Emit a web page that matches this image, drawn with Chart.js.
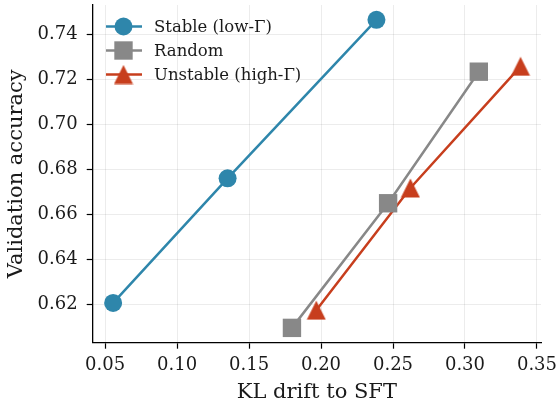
<!DOCTYPE html>
<html>
<head>
<meta charset="utf-8">
<script src="https://cdn.jsdelivr.net/npm/chart.js@4/dist/chart.umd.min.js"></script>
<style>
  html, body { margin: 0; padding: 0; background: #fff; }
  #wrap { width: 558px; height: 403px; position: relative; }
</style>
</head>
<body>
<div id="wrap"><canvas id="cadre"></canvas></div>
<script>
// values
const stableKL = [0.0556, 0.1351, 0.2385];
const stableAcc = [0.6205, 0.676, 0.7466];
const randomKL = [0.1798, 0.2466, 0.3096];
const randomAcc = [0.6094, 0.6649, 0.7235];
const unstableKL = [0.1967, 0.2621, 0.3386];
const unstableAcc = [0.6173, 0.6717, 0.7259];

const xTicks = [0.05, 0.10, 0.15, 0.20, 0.25, 0.30, 0.35];
const yTicks = [0.62, 0.64, 0.66, 0.68, 0.70, 0.72, 0.74];
const seriesNames = ["Stable (low-\u0393)", "Random", "Unstable (high-\u0393)"];

const FONT = "'DejaVu Serif', serif";
const TEXT = "#1a1a1a";
const PLOT_TOP = 5;

function pts(xs, ys) {
  return xs.map((x, i) => ({ x: x, y: ys[i] }));
}

// matplotlib '^' is centred on its bounding box, not its centroid
function triangleMarker(color) {
  let c = document.createElement("canvas");
  c.width = 20;
  c.height = 20;
  let g = c.getContext("2d");
  g.fillStyle = color;
  g.beginPath();
  g.moveTo(10, 0.6);
  g.lineTo(19.5, 19.4);
  g.lineTo(0.5, 19.4);
  g.closePath();
  g.fill();
  return c;
}

function makeSet(label, data, color, style, radius) {
  return {
    label: label,
    data: data,
    showLine: true,
    borderColor: color,
    backgroundColor: color,
    borderWidth: 2.5,
    pointStyle: style,
    pointRadius: radius,
    pointHoverRadius: radius,
    pointBorderWidth: 0,
    pointBorderColor: color,
    pointBackgroundColor: color,
    clip: false,
  };
}

// pull the plot top up to where matplotlib had it
const topFix = {
  id: "topFix",
  afterLayout(chart) {
    const y = chart.scales.y;
    const area = chart.chartArea;
    area.top = PLOT_TOP;
    area.height = area.bottom - PLOT_TOP;
    y.top = PLOT_TOP;
    y.height = y.bottom - PLOT_TOP;
    y.configure();
  },
};

// legend drawn like matplotlib's: short line with the marker on it
const mplLegend = {
  id: "mplLegend",
  afterDraw(chart) {
    const ctx = chart.ctx;
    const rows = [26.5, 50.5, 74.5];
    chart.data.datasets.forEach((ds, i) => {
      const y = rows[i];
      ctx.save();
      ctx.strokeStyle = ds.borderColor;
      ctx.lineWidth = 2.5;
      ctx.beginPath();
      ctx.moveTo(106, y);
      ctx.lineTo(142, y);
      ctx.stroke();
      ctx.fillStyle = ds.backgroundColor;
      Chart.helpers.drawPoint(ctx, {
        pointStyle: ds.pointStyle,
        rotation: 0,
        borderWidth: 0,
        radius: ds.pointRadius,
      }, 123.5, y);
      ctx.restore();

      ctx.save();
      ctx.fillStyle = TEXT;
      ctx.font = "16.5px " + FONT;
      ctx.textBaseline = "middle";
      ctx.fillText(ds.label, 154, y + 0.8);
      ctx.restore();
    });
  },
};

const gridOpts = {
  color: "rgba(0,0,0,0.075)",
  lineWidth: 1,
  tickColor: "#000",
  tickLength: 6,
  tickWidth: 1.2,
};

let canvas = document.getElementById("cadre");
const ctx = canvas.getContext("2d");

const chart = new Chart(ctx, {
  type: "scatter",
  data: {
    datasets: [
      makeSet(seriesNames[0], pts(stableKL, stableAcc), "#2e86ab", "circle", 9),
      makeSet(seriesNames[1], pts(randomKL, randomAcc), "#888888", "rect", 13),
      makeSet(seriesNames[2], pts(unstableKL, unstableAcc), "#c73e1d", triangleMarker("#c73e1d"), 10),
    ],
  },
  options: {
    responsive: true,
    maintainAspectRatio: false,
    animation: false,
    layout: { padding: { top: 5, right: 17, left: 0, bottom: 0 } },
    plugins: {
      legend: { display: false },
      tooltip: { enabled: false },
    },
    scales: {
      x: {
        type: "linear",
        min: 0.0414,
        max: 0.3528,
        afterBuildTicks: (s) => { s.ticks = xTicks.map((v) => ({ value: v })); },
        afterFit: (s) => {
          s.height = 60.3;
          s.paddingLeft = 0;
          s.paddingRight = 0;
        },
        ticks: {
          font: { family: FONT, size: 18 },
          color: TEXT,
          padding: 6,
          maxRotation: 0,
          callback: (v) => v.toFixed(2),
        },
        grid: gridOpts,
        border: { display: true, color: "#000", width: 1.3 },
        title: {
          display: true,
          text: "KL drift to SFT",
          font: { family: FONT, size: 21, lineHeight: 1 },
          color: TEXT,
          padding: { top: 0, bottom: 0 },
        },
      },
      y: {
        type: "linear",
        min: 0.6028,
        max: 0.7532,
        afterBuildTicks: (s) => { s.ticks = yTicks.map((v) => ({ value: v })); },
        afterFit: (s) => { s.width = 92.7; },
        ticks: {
          font: { family: FONT, size: 18 },
          color: TEXT,
          padding: 9,
          callback: (v) => v.toFixed(2),
        },
        grid: gridOpts,
        border: { display: true, color: "#000", width: 1.3 },
        title: {
          display: true,
          text: "Validation accuracy",
          font: { family: FONT, size: 21, lineHeight: 1 },
          color: TEXT,
          padding: { top: 6, bottom: 0 },
        },
      },
    },
  },
  plugins: [topFix, mplLegend],
});
</script>
</body>
</html>
